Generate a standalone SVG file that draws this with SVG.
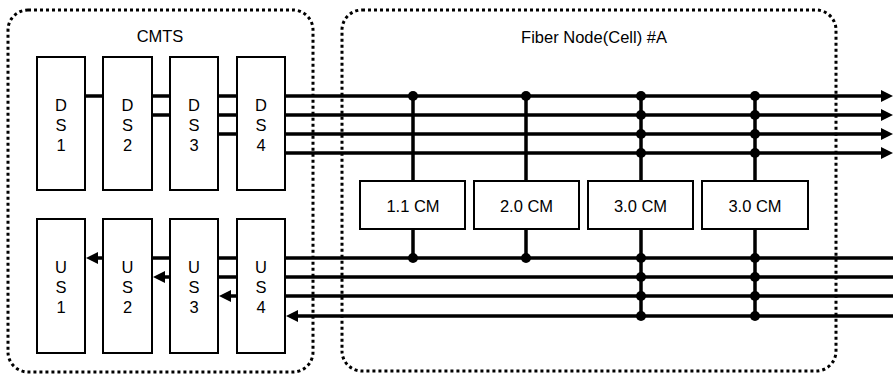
<svg xmlns="http://www.w3.org/2000/svg" width="893" height="376" viewBox="0 0 893 376">
  <style>
    .frame { fill: none; stroke: #000; stroke-width: 3; stroke-dasharray: 3 3; }
    .box { fill: #fff; stroke: #000; stroke-width: 2; }
    .lbl { font-family: "Liberation Sans", Arial, sans-serif; font-size: 16.5px; fill: #000; text-anchor: middle; }
    .wire { fill: none; stroke: #000; stroke-width: 3.5; }
    .arr { marker-end: url(#head); }
    .tap { fill: #000; }
  </style>
  <defs>
    <marker id="head" markerUnits="userSpaceOnUse" markerWidth="12" markerHeight="12" viewBox="0 0 12 12" refX="1" refY="6" orient="auto">
      <path d="M0,0 L12,6 L0,12 z" fill="#000"/>
    </marker>
  </defs>
  <rect width="893" height="376" fill="#fff"/>

  <!-- enclosures -->
  <g id="cmts">
    <rect class="frame" x="8" y="10" width="305" height="362" rx="20" ry="20"/>
    <text class="lbl" x="160" y="42">CMTS</text>
  </g>
  <g id="fiber-node">
    <rect class="frame" x="342" y="10" width="494" height="361" rx="20" ry="20"/>
    <text class="lbl" x="594" y="43">Fiber Node(Cell) #A</text>
  </g>

  <!-- connectors -->
  <g id="connectors">
    <!-- downstream -->
    <path class="wire" d="M85 96H103 M152 96H170 M152 115H170 M218 96H237 M218 115H237 M218 134H237"/>
    <line class="wire arr" x1="285" y1="96" x2="882" y2="96"/>
    <line class="wire arr" x1="285" y1="115" x2="882" y2="115"/>
    <line class="wire arr" x1="285" y1="134" x2="882" y2="134"/>
    <line class="wire arr" x1="285" y1="153" x2="882" y2="153"/>
    <!-- upstream -->
    <path class="wire" d="M893 258H285 M237 258H218 M170 258H152 M893 277H285 M237 277H218 M893 296H285"/>
    <line class="wire arr" x1="103" y1="258" x2="97" y2="258"/>
    <line class="wire arr" x1="170" y1="277" x2="164" y2="277"/>
    <line class="wire arr" x1="237" y1="296" x2="230" y2="296"/>
    <line class="wire arr" x1="893" y1="316" x2="297" y2="316"/>
    <!-- modem drops -->
    <path class="wire" d="M413 96V181 M413 229V258 M526 96V181 M526 229V258 M641 96V181 M641 229V316 M755 96V181 M755 229V316"/>
    <g class="tap">
      <circle cx="413" cy="96" r="5"/><circle cx="413" cy="258" r="5"/>
      <circle cx="526" cy="96" r="5"/><circle cx="526" cy="258" r="5"/>
      <circle cx="641" cy="96" r="5"/><circle cx="641" cy="115" r="5"/><circle cx="641" cy="134" r="5"/><circle cx="641" cy="153" r="5"/>
      <circle cx="641" cy="258" r="5"/><circle cx="641" cy="277" r="5"/><circle cx="641" cy="296" r="5"/><circle cx="641" cy="316" r="5"/>
      <circle cx="755" cy="96" r="5"/><circle cx="755" cy="115" r="5"/><circle cx="755" cy="134" r="5"/><circle cx="755" cy="153" r="5"/>
      <circle cx="755" cy="258" r="5"/><circle cx="755" cy="277" r="5"/><circle cx="755" cy="296" r="5"/><circle cx="755" cy="316" r="5"/>
    </g>
  </g>

  <!-- downstream channels -->
  <g id="ds1"><rect class="box" x="37" y="57" width="48" height="133"/>
    <text class="lbl" x="61" y="111">D</text><text class="lbl" x="61" y="131">S</text><text class="lbl" x="61" y="151">1</text></g>
  <g id="ds2"><rect class="box" x="103" y="57" width="49" height="133"/>
    <text class="lbl" x="127.5" y="111">D</text><text class="lbl" x="127.5" y="131">S</text><text class="lbl" x="127.5" y="151">2</text></g>
  <g id="ds3"><rect class="box" x="170" y="57" width="48" height="133"/>
    <text class="lbl" x="194" y="111">D</text><text class="lbl" x="194" y="131">S</text><text class="lbl" x="194" y="151">3</text></g>
  <g id="ds4"><rect class="box" x="237" y="57" width="48" height="133"/>
    <text class="lbl" x="261" y="111">D</text><text class="lbl" x="261" y="131">S</text><text class="lbl" x="261" y="151">4</text></g>

  <!-- upstream channels -->
  <g id="us1"><rect class="box" x="37" y="219" width="48" height="134"/>
    <text class="lbl" x="61" y="273">U</text><text class="lbl" x="61" y="293">S</text><text class="lbl" x="61" y="313">1</text></g>
  <g id="us2"><rect class="box" x="103" y="219" width="49" height="134"/>
    <text class="lbl" x="127.5" y="273">U</text><text class="lbl" x="127.5" y="293">S</text><text class="lbl" x="127.5" y="313">2</text></g>
  <g id="us3"><rect class="box" x="170" y="219" width="48" height="134"/>
    <text class="lbl" x="194" y="273">U</text><text class="lbl" x="194" y="293">S</text><text class="lbl" x="194" y="313">3</text></g>
  <g id="us4"><rect class="box" x="237" y="219" width="48" height="134"/>
    <text class="lbl" x="261" y="273">U</text><text class="lbl" x="261" y="293">S</text><text class="lbl" x="261" y="313">4</text></g>

  <!-- cable modems -->
  <g id="cm1"><rect class="box" x="360" y="181" width="105" height="48"/><text class="lbl" x="413" y="212">1.1 CM</text></g>
  <g id="cm2"><rect class="box" x="474" y="181" width="105" height="48"/><text class="lbl" x="526.5" y="212">2.0 CM</text></g>
  <g id="cm3"><rect class="box" x="588" y="181" width="105" height="48"/><text class="lbl" x="640.5" y="212">3.0 CM</text></g>
  <g id="cm4"><rect class="box" x="702" y="181" width="106" height="48"/><text class="lbl" x="755" y="212">3.0 CM</text></g>
</svg>
